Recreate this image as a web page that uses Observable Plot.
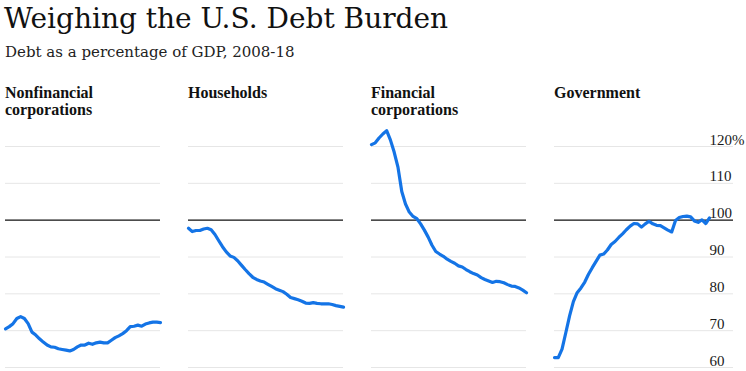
<!DOCTYPE html>
<html>
<head>
<meta charset="utf-8">
<script src="https://cdn.jsdelivr.net/npm/d3@7"></script>
<script src="https://cdn.jsdelivr.net/npm/@observablehq/plot@0.6"></script>
<style>
  html, body { margin: 0; padding: 0; background: #fff; }
  #root { position: relative; width: 746px; height: 371px; overflow: hidden; }
  .title { position: absolute; left: 4px; top: 5px; font: 28px/1 "DejaVu Serif", serif; color: #111; white-space: nowrap; }
  .subtitle { position: absolute; left: 5px; top: 44.5px; font: 15px/1 "DejaVu Serif", serif; color: #222; white-space: nowrap; }
  .ptitle { position: absolute; top: 85px; font: bold 16px/16.5px "Liberation Serif", serif; color: #111; }
  .panel { position: absolute; top: 70px; }
</style>
</head>
<body>
<div id="root">
  <div class="title">Weighing the U.S. Debt Burden</div>
  <div class="subtitle">Debt as a percentage of GDP, 2008-18</div>
</div>
<script>
// Quarterly observations, 2008 Q1 – 2018 Q2
const quarters = d3.utcMonths(new Date(Date.UTC(2008, 0, 1)), new Date(Date.UTC(2018, 6, 1)), 3);

const panelTitles = ["Nonfinancial\ncorporations", "Households", "Financial\ncorporations", "Government"];

const nonfinancial = [70.5,71.1,71.9,73.3,73.8,73.3,71.9,69.6,68.8,67.8,66.9,66.1,65.6,65.5,65.1,64.9,64.7,64.5,64.9,65.6,66.1,66.1,66.6,66.3,66.7,66.9,66.7,66.7,67.4,68.1,68.6,69.2,70.0,71.1,71.2,71.5,71.2,71.8,72.1,72.3,72.3,72.2];
const households = [97.8,96.9,97.2,97.2,97.6,97.8,97.4,96.1,94.4,92.8,91.4,90.3,89.9,89.0,87.8,86.6,85.5,84.5,83.9,83.5,83.2,82.6,82.0,81.4,81.0,80.6,79.9,79.0,78.7,78.4,78.0,77.5,77.4,77.6,77.4,77.3,77.3,77.3,77.1,76.8,76.6,76.4];
const financial = [120.5,121.0,122.3,123.4,124.3,121.8,118.5,114.4,107.8,104.4,102.2,101.0,100.4,99.0,97.3,95.4,93.2,91.5,90.8,90.2,89.4,88.8,88.3,87.6,87.3,86.6,86.0,85.5,85.1,84.4,83.9,83.5,83.1,83.4,83.3,83.0,82.5,82.1,82.0,81.6,81.0,80.3];
const government = [62.7,62.7,65.0,69.5,74.1,77.9,80.3,81.6,83.2,85.3,87.1,88.8,90.5,90.8,91.9,93.4,94.2,95.3,96.3,97.4,98.4,99.1,99.0,98.1,99.0,99.7,99.0,98.6,98.5,97.9,97.3,96.8,99.9,100.7,101.0,101.1,100.9,99.8,99.4,100.1,99.1,100.6];

const gridValues = [60, 70, 80, 90, 110, 120];
const baseline = [100];
const tickValues = [60, 70, 80, 90, 100, 110, 120];
const tickLabels = ["60", "70", "80", "90", "100", "110", "120%"];

const series = [nonfinancial, households, financial, government];
const blue = "#1474e6";
const root = document.getElementById("root");

series.forEach((values, k) => {
  const last = k === series.length - 1;
  const data = values.map((v, i) => ({date: quarters[i], value: v}));
  const marks = [
    Plot.ruleY(gridValues, {stroke: "#e6e6e6", strokeWidth: 1, insetRight: last ? -24 : 0}),
    Plot.ruleY(baseline, {stroke: "#111", strokeWidth: 1.2, insetRight: last ? -24 : 0}),
    Plot.line(data, {x: "date", y: "value", stroke: blue, strokeWidth: 3.2, strokeLinejoin: "round", strokeLinecap: "round"})
  ];
  if (last) {
    marks.push(Plot.text(tickValues, {
      y: d => d,
      text: (d, i) => tickLabels[i],
      frameAnchor: "right",
      textAnchor: "start",
      lineAnchor: "bottom",
      dx: 0,
      dy: -2,
      fill: "#1a1a1a",
      fontSize: 15
    }));
  }
  const chart = Plot.plot({
    width: last ? 197 : 165,
    height: 301,
    marginTop: 76,
    marginBottom: 4,
    marginLeft: 5,
    marginRight: last ? 37 : 5,
    x: {type: "utc", domain: [quarters[0], quarters[quarters.length - 1]], axis: null},
    y: {domain: [60, 120], axis: null},
    style: {fontFamily: "Liberation Serif, serif", background: "transparent", overflow: "visible"},
    marks
  });
  const wrap = document.createElement("div");
  wrap.className = "panel";
  wrap.style.left = (k * 183) + "px";
  wrap.appendChild(chart);
  root.appendChild(wrap);

  const t = document.createElement("div");
  t.className = "ptitle";
  t.style.left = (5 + k * 183) + "px";
  t.innerHTML = panelTitles[k].replace("\n", "<br>");
  root.appendChild(t);
});
</script>
</body>
</html>
